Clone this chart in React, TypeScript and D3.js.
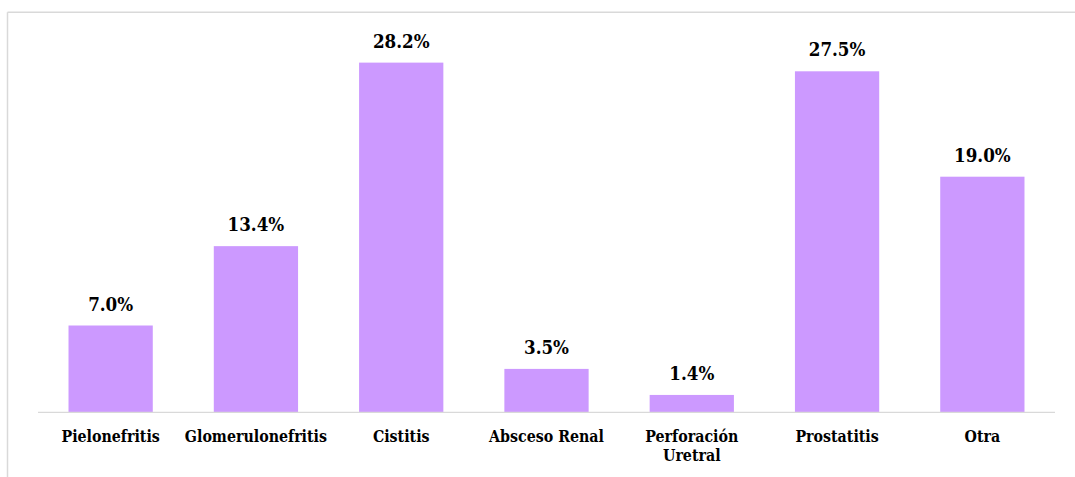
import React from "react";
import * as d3 from "d3";

const categories: string[][] = [
  ["Pielonefritis"],
  ["Glomerulonefritis"],
  ["Cistitis"],
  ["Absceso Renal"],
  ["Perforación", "Uretral"],
  ["Prostatitis"],
  ["Otra"],
];
const values: number[] = [7.0, 13.4, 28.2, 3.5, 1.4, 27.5, 19.0];

const W = 1075;
const H = 477;
const FONT = '"DejaVu Serif Condensed", "DejaVu Serif", serif';
const BAR = "#cc99ff";
const GRID = "#d9d9d9";

export default function App() {
  const x = d3
    .scaleBand<number>()
    .domain(d3.range(values.length))
    .range([38, 1055])
    .paddingInner(0.42)
    .paddingOuter(0.21);
  const y = d3.scaleLinear().domain([0, 30]).range([412.3, 40.3]);
  const fmt = (v: number) => d3.format(".1f")(v) + "%";

  return (
    <svg
      width={W}
      height={H}
      style={{ position: "absolute", left: 0, top: 0, background: "#fff" }}
    >
      <line x1={7.5} x2={W} y1={12.3} y2={12.3} stroke={GRID} strokeWidth={1.5} />
      <line x1={7.5} x2={7.5} y1={12.3} y2={H} stroke={GRID} strokeWidth={1.5} />
      {values.map((v, i) => (
        <rect
          key={i}
          x={x(i)}
          y={y(v)}
          width={x.bandwidth()}
          height={y(0) - y(v)}
          fill={BAR}
        />
      ))}
      <line x1={38} x2={1055} y1={y(0)} y2={y(0)} stroke={GRID} strokeWidth={1.3} />
      {values.map((v, i) => (
        <text
          key={i}
          x={(x(i) as number) + x.bandwidth() / 2}
          y={y(v) - 15}
          textAnchor="middle"
          fontFamily={FONT}
          fontWeight="bold"
          fontSize={18.6}
          fill="#000"
        >
          {fmt(v)}
        </text>
      ))}
      {categories.map((lines, i) => (
        <text
          key={i}
          x={(x(i) as number) + x.bandwidth() / 2}
          y={441.7}
          textAnchor="middle"
          fontFamily={FONT}
          fontWeight="bold"
          fontSize={15.8}
          fill="#000"
        >
          {lines.map((t, j) => (
            <tspan key={j} x={(x(i) as number) + x.bandwidth() / 2} dy={j === 0 ? 0 : 19}>
              {t}
            </tspan>
          ))}
        </text>
      ))}
    </svg>
  );
}
